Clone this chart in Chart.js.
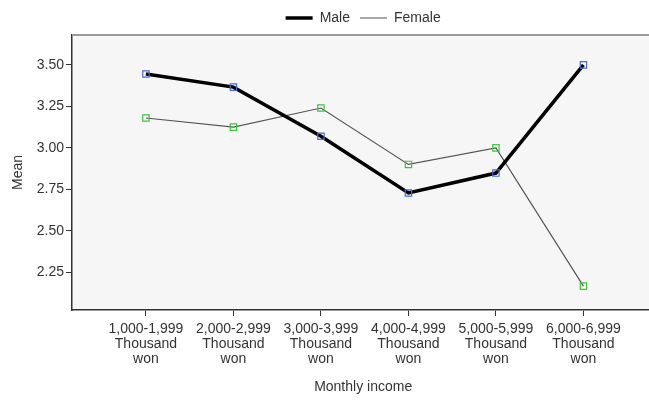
<!DOCTYPE html>
<html>
<head>
<meta charset="utf-8">
<script src="https://cdn.jsdelivr.net/npm/chart.js@4.4.1/dist/chart.umd.min.js"></script>
<style>
  html, body { margin: 0; padding: 0; background: #fff; overflow: hidden; }
  #wrap { width: 660px; height: 400px; }
</style>
</head>
<body>
<div id="wrap"><canvas id="myChart"></canvas></div>
<script>
const categories = [
  ["1,000-1,999", "Thousand", "won"],
  ["2,000-2,999", "Thousand", "won"],
  ["3,000-3,999", "Thousand", "won"],
  ["4,000-4,999", "Thousand", "won"],
  ["5,000-5,999", "Thousand", "won"],
  ["6,000-6,999", "Thousand", "won"]
];
const maleMeans = [3.445, 3.366, 3.07, 2.728, 2.848, 3.50];
const femaleMeans = [3.18, 3.125, 3.24, 2.90, 3.00, 2.167];
const yTicks = [2.25, 2.50, 2.75, 3.00, 3.25, 3.50];

const fontFam = "'Liberation Sans', Arial, sans-serif";

function toPoints(values) {
  let pts = [];
  for (let i = 0; i < values.length; i++) {
    pts.push({ x: i + 1, y: values[i] });
  }
  return pts;
}

const plotBg = {
  id: "plotBg",
  beforeDraw(chart) {
    const a = chart.chartArea;
    const ctx = chart.ctx;
    ctx.save();
    ctx.fillStyle = "#f6f6f6";
    ctx.fillRect(a.left, a.top, a.right - a.left, a.bottom - a.top);
    ctx.restore();
  },
  afterDatasetsDraw(chart) {
    const a = chart.chartArea;
    const ctx = chart.ctx;
    ctx.save();
    ctx.strokeStyle = "#9a9a9a";
    ctx.lineWidth = 2;
    ctx.beginPath();
    ctx.moveTo(a.left, a.top);
    ctx.lineTo(a.right + 2, a.top);
    ctx.stroke();
    ctx.restore();
  }
};

const data = {
  datasets: [
    {
      label: "Male",
      data: toPoints(maleMeans),
      borderColor: "#000000",
      borderWidth: 3.5,
      pointStyle: "rect",
      pointRadius: 4.5,
      pointBorderWidth: 1.2,
      pointBorderColor: "#4a6bd4",
      pointBackgroundColor: "rgba(0,0,0,0)",
      tension: 0
    },
    {
      label: "Female",
      data: toPoints(femaleMeans),
      borderColor: "#555555",
      borderWidth: 1.2,
      pointStyle: "rect",
      pointRadius: 4.5,
      pointBorderWidth: 1.2,
      pointBorderColor: "#3ec43e",
      pointBackgroundColor: "rgba(0,0,0,0)",
      tension: 0
    }
  ]
};

const config = {
  type: "line",
  data: data,
  options: {
    responsive: true,
    maintainAspectRatio: false,
    animation: false,
    layout: { padding: { top: 1, right: 0, left: 0, bottom: 0 } },
    scales: {
      x: {
        type: "linear",
        min: 0.155,
        max: 6.81,
        afterBuildTicks(axis) {
          axis.ticks = categories.map((c, i) => ({ value: i + 1 }));
        },
        afterFit(axis) { axis.height = 90; },
        ticks: {
          autoSkip: false,
          maxRotation: 0,
          color: "#333",
          font: { family: fontFam, size: 14, lineHeight: 1.1 },
          padding: 5,
          callback: (v) => categories[Math.round(v) - 1]
        },
        grid: { drawOnChartArea: false, tickLength: 6, color: "#333", tickWidth: 1 },
        border: { color: "#333", width: 1.5 },
        title: {
          display: true,
          text: "Monthly income",
          color: "#333",
          font: { family: fontFam, size: 14 },
          padding: { top: 6 }
        }
      },
      y: {
        min: 2.023,
        max: 3.68,
        afterBuildTicks(axis) {
          axis.ticks = yTicks.map((v) => ({ value: v }));
        },
        afterFit(axis) { axis.width = 72; },
        ticks: {
          color: "#333",
          font: { family: fontFam, size: 14 },
          padding: 2,
          callback: (v) => v.toFixed(2)
        },
        grid: { drawOnChartArea: false, tickLength: 6, color: "#333", tickWidth: 1 },
        border: { color: "#333", width: 1.5 },
        title: {
          display: true,
          text: "Mean",
          color: "#333",
          font: { family: fontFam, size: 14 },
          padding: { top: 10, bottom: 6 }
        }
      }
    },
    plugins: {
      legend: {
        position: "top",
        align: "center",
        fullSize: false,
        labels: {
          usePointStyle: true,
          pointStyle: "line",
          pointStyleWidth: 27,
          color: "#333",
          font: { family: fontFam, size: 14 },
          padding: 10,
          generateLabels(chart) {
            return chart.data.datasets.map((ds, i) => ({
              text: ds.label,
              strokeStyle: ds.borderColor,
              fillStyle: ds.borderColor,
              lineWidth: ds.borderWidth,
              pointStyle: "line",
              fontColor: "#333",
              hidden: false,
              datasetIndex: i
            }));
          }
        }
      },
      tooltip: { enabled: false }
    }
  },
  plugins: [plotBg]
};

new Chart(document.getElementById("myChart"), config);
</script>
</body>
</html>
